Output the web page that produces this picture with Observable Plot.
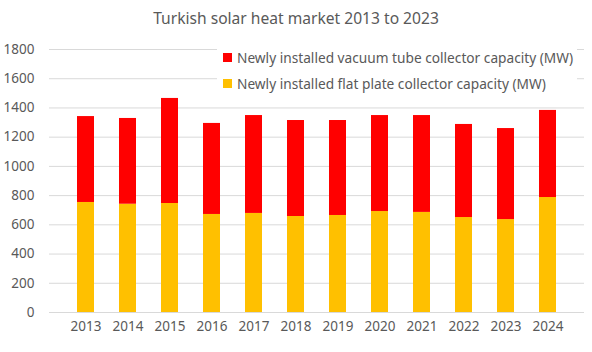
<!DOCTYPE html>
<html><head><meta charset="utf-8">
<script src="https://cdn.jsdelivr.net/npm/d3@7"></script>
<script src="https://cdn.jsdelivr.net/npm/@observablehq/plot@0.6"></script>
<style>
body{margin:0;background:#fff;font-family:"Noto Sans",sans-serif;color:#595959}
#wrap{position:relative;width:592px;height:352px;overflow:hidden}
#title{position:absolute;top:7px;left:0;width:592px;text-align:center;font-size:15.6px}
#chart{position:absolute;top:34px;left:0}
#legend{position:absolute;left:217px;top:42px;width:360px;background:#fff;font-size:13.7px;padding:2px 0}
.row{display:flex;align-items:center;height:26px;padding-left:6px}
.sw{width:9px;height:9px;margin-right:5px}
</style></head>
<body>
<div id="wrap">
<div id="title">Turkish solar heat market 2013 to 2023</div>
<div id="chart"></div>
<div id="legend"></div>
</div>
<script>
const years = ["2013","2014","2015","2016","2017","2018","2019","2020","2021","2022","2023","2024"];
const flatPlate = [753,741,746,671,678,657,664,691,685,650,636,787];
const vacuumTube = [588,587,719,623,670,657,650,657,663,637,623,596];
const seriesNames = ["Newly installed vacuum tube collector capacity (MW)","Newly installed flat plate collector capacity (MW)"];
const seriesColors = ["#FF0000","#FFC000"];
const yTicks = [0,200,400,600,800,1000,1200,1400,1600,1800];

const rows = [];
years.forEach((y,i)=>rows.push({year:y, series:seriesNames[1], value:flatPlate[i]}));
years.forEach((y,i)=>rows.push({year:y, series:seriesNames[0], value:vacuumTube[i]}));

const chart = Plot.plot({
  width:592, height:300,
  marginLeft:49, marginRight:8, marginTop:15, marginBottom:22,
  style:{fontSize:"13.5px", fontFamily:"'Noto Sans', sans-serif", color:"#595959", background:"#fff"},
  x:{domain:years, padding:0.6, label:null, tickSize:0, tickPadding:9},
  y:{domain:[0,1800], ticks:yTicks, tickFormat:"d", label:null, tickSize:0, tickPadding:15},
  color:{domain:seriesNames, range:seriesColors},
  marks:[
    Plot.ruleY(yTicks, {stroke:"#D9D9D9", strokeWidth:1}),
    Plot.barY(rows, {x:"year", y:"value", fill:"series"})
  ]
});
document.getElementById("chart").appendChild(chart);

const leg = document.getElementById("legend");
seriesNames.forEach((n,i)=>{
  const r=document.createElement("div"); r.className="row";
  const s=document.createElement("div"); s.className="sw"; s.style.background=seriesColors[i];
  const t=document.createElement("span"); t.textContent=n;
  r.appendChild(s); r.appendChild(t); leg.appendChild(r);
});
</script>
</body></html>
